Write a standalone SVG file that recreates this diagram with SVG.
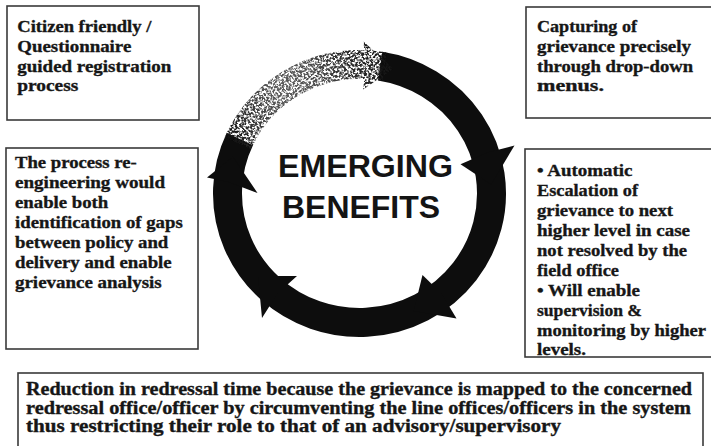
<svg xmlns="http://www.w3.org/2000/svg" width="711" height="446" viewBox="0 0 711 446">
  <defs>
    <style>
      .box { fill: #ffffff; stroke: #3a3a3a; stroke-width: 1.6; }
      .t { font-family: "Liberation Serif", "Times New Roman", serif; font-weight: bold; font-size: 17.5px; fill: #161616; stroke: #161616; stroke-width: 0.35; }
      .tb { font-family: "Liberation Serif", "Times New Roman", serif; font-weight: bold; font-size: 18px; fill: #161616; stroke: #161616; stroke-width: 0.35; }
      .hub { font-family: "Liberation Sans", Arial, sans-serif; font-weight: bold; font-size: 31px; fill: #141414; }
      .ring { fill: none; stroke: #0d0d0d; stroke-width: 29; }
      .head { fill: #0d0d0d; }
    </style>
    <!-- tone of the worn, faded stretch of the cycle ring -->
    <linearGradient id="fade" gradientUnits="userSpaceOnUse" x1="236" y1="146" x2="396" y2="60">
      <stop offset="0" stop-color="#111111"/>
      <stop offset="0.12" stop-color="#333333"/>
      <stop offset="0.35" stop-color="#5e5e5e"/>
      <stop offset="0.55" stop-color="#505050"/>
      <stop offset="0.75" stop-color="#2c2c2c"/>
      <stop offset="0.9" stop-color="#1a1a1a"/>
      <stop offset="1" stop-color="#0d0d0d"/>
    </linearGradient>
    <!-- speckled grain for the faded stretch -->
    <filter id="grain" filterUnits="userSpaceOnUse" x="200" y="20" width="220" height="150">
      <feTurbulence type="fractalNoise" baseFrequency="0.45" numOctaves="3" seed="7" result="noise"/>
      <feColorMatrix in="noise" type="matrix" values="0 0 0 0 0  0 0 0 0 0  0 0 0 0 0  4.5 0 0 0 -1.7" result="dots"/>
      <feComposite in="SourceGraphic" in2="dots" operator="in"/>
    </filter>
  </defs>

  <rect width="711" height="446" fill="#ffffff"/>

  <!-- cycle ring with its five arrowheads (clockwise) -->
  <g id="connectors">
    <path class="ring" d="M 380.15 66.09 A 132 129 0 1 1 239.87 138.98"/>
    <polygon class="head" points="514.5,145.5 491.18,184.5 460.5,164.2 487.5,152.5"/>
    <polygon class="head" points="456.5,318.5 413.72,311.12 422.5,275.0 441.5,293.5"/>
    <polygon class="head" points="262.0,318.0 257.99,275.96 297.0,276.0 277.5,293.5"/>
    <polygon class="head" points="207.0,177.5 232.94,156.86 257.5,193.0 228.5,182.0"/>
    <g filter="url(#grain)">
      <path d="M 237.99 143.10 A 132 129 0 0 1 384.69 66.87" fill="none" stroke="url(#fade)" stroke-width="29"/>
      <polygon fill="url(#fade)" points="363.5,41.5 393.11,68.76 363.23,89.56 365.5,64.56"/>
    </g>
  </g>

  <g id="hub">
    <text class="hub" x="278" y="177" textLength="175" lengthAdjust="spacingAndGlyphs">EMERGING</text>
    <text class="hub" x="282" y="218" textLength="158" lengthAdjust="spacingAndGlyphs">BENEFITS</text>
  </g>

  <g id="registration">
    <rect class="box" x="7" y="6" width="192" height="114"/>
    <text class="t" x="17.3" y="32" textLength="134" lengthAdjust="spacingAndGlyphs">Citizen friendly /</text>
    <text class="t" x="17.3" y="52" textLength="114" lengthAdjust="spacingAndGlyphs">Questionnaire</text>
    <text class="t" x="17.3" y="72" textLength="154" lengthAdjust="spacingAndGlyphs">guided registration</text>
    <text class="t" x="17.3" y="91" textLength="61" lengthAdjust="spacingAndGlyphs">process</text>
  </g>

  <g id="capturing">
    <rect class="box" x="526" y="7" width="200" height="111"/>
    <text class="t" x="537" y="32" textLength="100" lengthAdjust="spacingAndGlyphs">Capturing of</text>
    <text class="t" x="537" y="52" textLength="154" lengthAdjust="spacingAndGlyphs">grievance precisely</text>
    <text class="t" x="537" y="72" textLength="156" lengthAdjust="spacingAndGlyphs">through drop-down</text>
    <text class="t" x="537" y="91" textLength="67" lengthAdjust="spacingAndGlyphs">menus.</text>
  </g>

  <g id="reengineering">
    <rect class="box" x="6" y="148" width="192" height="201"/>
    <text class="t" x="15" y="168" textLength="121.7" lengthAdjust="spacingAndGlyphs">The process re-</text>
    <text class="t" x="15" y="188" textLength="150" lengthAdjust="spacingAndGlyphs">engineering would</text>
    <text class="t" x="15" y="208" textLength="93.3" lengthAdjust="spacingAndGlyphs">enable both</text>
    <text class="t" x="15" y="228" textLength="167.7" lengthAdjust="spacingAndGlyphs">identification of gaps</text>
    <text class="t" x="15" y="248" textLength="153.3" lengthAdjust="spacingAndGlyphs">between policy and</text>
    <text class="t" x="15" y="268" textLength="156.7" lengthAdjust="spacingAndGlyphs">delivery and enable</text>
    <text class="t" x="15" y="288" textLength="146.7" lengthAdjust="spacingAndGlyphs">grievance analysis</text>
  </g>

  <g id="escalation">
    <rect class="box" x="525" y="149" width="200" height="208"/>
    <text class="t" x="537" y="176" textLength="95.5" lengthAdjust="spacingAndGlyphs">• Automatic</text>
    <text class="t" x="537" y="196" textLength="101" lengthAdjust="spacingAndGlyphs">Escalation of</text>
    <text class="t" x="537" y="216" textLength="136" lengthAdjust="spacingAndGlyphs">grievance to next</text>
    <text class="t" x="537" y="236" textLength="153" lengthAdjust="spacingAndGlyphs">higher level in case</text>
    <text class="t" x="537" y="256" textLength="150" lengthAdjust="spacingAndGlyphs">not resolved by the</text>
    <text class="t" x="537" y="276" textLength="82" lengthAdjust="spacingAndGlyphs">field office</text>
    <text class="t" x="537" y="296" textLength="103" lengthAdjust="spacingAndGlyphs">• Will enable</text>
    <text class="t" x="537" y="316" textLength="105" lengthAdjust="spacingAndGlyphs">supervision &amp;</text>
    <text class="t" x="537" y="336" textLength="169" lengthAdjust="spacingAndGlyphs">monitoring by higher</text>
    <text class="t" x="537" y="355" textLength="49" lengthAdjust="spacingAndGlyphs">levels.</text>
  </g>

  <g id="redressal">
    <rect class="box" x="18" y="373" width="685" height="90"/>
    <text class="tb" x="26" y="395" textLength="666" lengthAdjust="spacingAndGlyphs">Reduction in redressal time because the grievance is mapped to the concerned</text>
    <text class="tb" x="26" y="413.5" textLength="665" lengthAdjust="spacingAndGlyphs">redressal office/officer by circumventing the line offices/officers in the system</text>
    <text class="tb" x="26" y="432" textLength="535" lengthAdjust="spacingAndGlyphs">thus restricting their role to that of an advisory/supervisory</text>
  </g>
</svg>
